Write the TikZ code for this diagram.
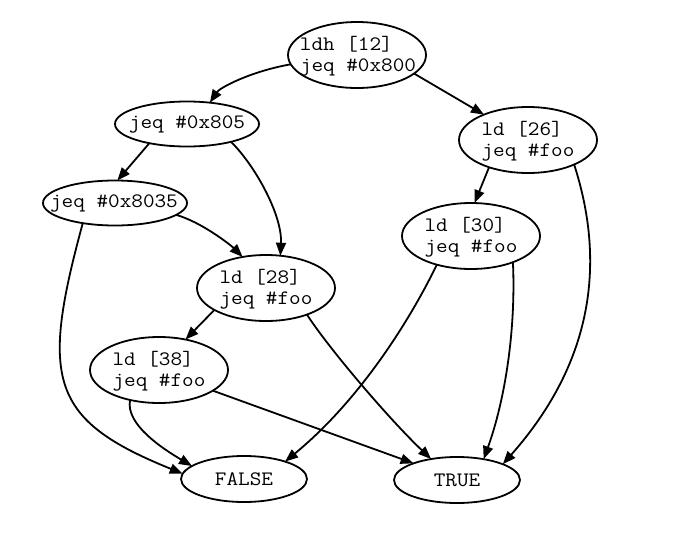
\documentclass[tikz,border=0pt]{standalone}
\usepackage{fontspec}
\newfontfamily\courlike[FakeStretch=1.1]{Latin Modern Mono}
\usetikzlibrary{shapes.geometric,arrows.meta}
\begin{document}
\begin{tikzpicture}[x=1pt,y=-1pt,
  vbox/.style={draw,ellipse,line width=1.8pt,inner sep=0pt,outer sep=0pt,minimum width=138pt,minimum height=66pt},
  smallbox/.style={vbox,minimum width=144pt,minimum height=45pt},
  endbox/.style={vbox,minimum width=126pt,minimum height=46pt},
  lbl/.style={font=\fontsize{20.5}{20.5}\selectfont\courlike,align=left,inner sep=0pt,text=black},
  edge/.style={line width=1.8pt,-{Triangle[length=13pt,width=10pt]}}]
\useasboundingbox (0,0) rectangle (699,533);
% nodes
\node[vbox] (a) at (357,55) {};
\node[lbl] (at) at (358,56) {ldh [12]\\jeq \#0x800};
\node[smallbox] (b) at (187,124) {};
\node[lbl] (bt) at (187,124) {jeq \#0x805};
\node[vbox] (c) at (528,140) {};
\node[lbl] (ct) at (528,141) {ld [26]\\jeq \#foo};
\node[smallbox] (d) at (115,203) {};
\node[lbl] (dt) at (114,203) {jeq \#0x8035};
\node[vbox] (e) at (471,236) {};
\node[lbl] (et) at (471,237) {ld [30]\\jeq \#foo};
\node[vbox] (f) at (266,288) {};
\node[lbl] (ft) at (266,289) {ld [28]\\jeq \#foo};
\node[vbox] (g) at (159,370) {};
\node[lbl] (gt) at (159,371) {ld [38]\\jeq \#foo};
\node[endbox] (h) at (244,479) {};
\node[lbl] (ht) at (244,479) {FALSE};
\node[endbox] (i) at (457,480) {};
\node[lbl] (it) at (457,480) {TRUE};
% edges
\draw[edge] (a.188) .. controls +(-40,7) and +(10,-15) .. (b.43);
\draw[edge] (a.342) -- (c.150);
\draw[edge] (b.207) -- (d.84);
\draw[edge] (b.338) .. controls +(25,25) and +(2,-40) .. (f.66);
\draw[edge] (d.349) .. controls +(25,7) and +(-12,-12) .. (f.127);
\draw[edge] (d.212) .. controls (40,380) and (50,420) .. (h.175);
\draw[edge] (c.215) -- (e.84);
\draw[edge] (c.332) .. controls (605,260) and (595,360) .. (i.19);
\draw[edge] (e.220) .. controls (410,320) and (360,400) .. (h.23);
\draw[edge] (e.328) .. controls (516,330) and (505,400) .. (i.38);
\draw[edge] (f.203) -- (g.49);
\draw[edge] (f.327) .. controls (330,350) and (390,420) .. (i.141);
\draw[edge] (g.226) .. controls (125,425) and (165,450) .. (h.166);
\draw[edge] (g.339) -- (i.159);
\end{tikzpicture}
\end{document}
